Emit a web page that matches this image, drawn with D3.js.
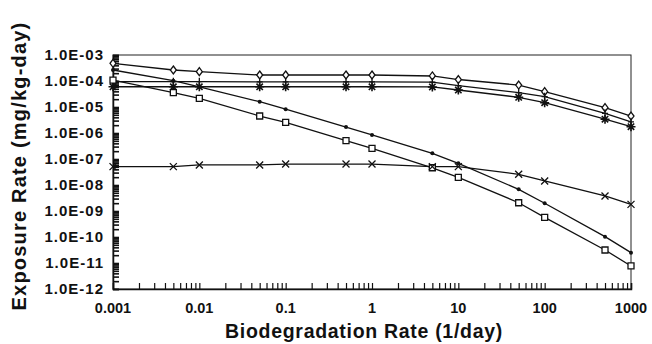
<!DOCTYPE html>
<head>
    <meta charset="utf-8">
    <script src="https://d3js.org/d3.v7.min.js"></script>
    <style>
        body { margin: 0; background: #fff; }
        text { font-family: "Liberation Sans", Arial, sans-serif; font-weight: bold; fill: #111; }
    </style>
</head>

<body>
    <div id="chart"></div>
</body>

<script>

    // biodegradation rates (1/day)
    const rates = [0.001, 0.005, 0.01, 0.05, 0.1, 0.5, 1, 5, 10, 50, 100, 500, 1000];

    // exposure rates (mg/kg-day)
    const diamondSeries  = [4.8e-4, 2.65e-4, 2.28e-4, 1.7e-4, 1.7e-4, 1.7e-4, 1.7e-4, 1.56e-4, 1.14e-4, 7.0e-5, 3.9e-5, 9.4e-6, 4.5e-6];
    const plusSeries     = [9.4e-5, 9.4e-5, 9.4e-5, 9.2e-5, 9.2e-5, 9.2e-5, 9.2e-5, 9.0e-5, 6.6e-5, 3.55e-5, 2.49e-5, 5.7e-6, 2.7e-6];
    const starSeries     = [6.0e-5, 6.0e-5, 6.0e-5, 6.0e-5, 6.0e-5, 6.0e-5, 6.0e-5, 5.9e-5, 4.5e-5, 2.36e-5, 1.46e-5, 3.4e-6, 1.75e-6];
    const dotSeries      = [2.65e-4, 1.03e-4, 5.9e-5, 1.6e-5, 8.2e-6, 1.7e-6, 8.4e-7, 1.66e-7, 6.8e-8, 6.8e-9, 1.98e-9, 1.03e-10, 2.5e-11];
    const squareSeries   = [1.09e-4, 3.55e-5, 2.16e-5, 4.5e-6, 2.58e-6, 5.06e-7, 2.58e-7, 4.6e-8, 1.98e-8, 2.08e-9, 5.7e-10, 3.16e-11, 7.7e-12];
    const crossSeries    = [5.1e-8, 5.1e-8, 5.9e-8, 5.9e-8, 6.4e-8, 6.4e-8, 6.4e-8, 5.1e-8, 5.1e-8, 2.58e-8, 1.43e-8, 3.8e-9, 1.8e-9];

    const xTicks = [0.001, 0.01, 0.1, 1, 10, 100, 1000];
    const xTickLabels = ["0.001", "0.01", "0.1", "1", "10", "100", "1000"];
    const yTicks = [1e-3, 1e-4, 1e-5, 1e-6, 1e-7, 1e-8, 1e-9, 1e-10, 1e-11, 1e-12];
    const yTickLabels = ["1.0E-03", "1.0E-04", "1.0E-05", "1.0E-06", "1.0E-07", "1.0E-08", "1.0E-09", "1.0E-10", "1.0E-11", "1.0E-12"];

    const series = [
        {values: diamondSeries, marker: "diamond"},
        {values: plusSeries,    marker: "plus"},
        {values: starSeries,    marker: "star"},
        {values: dotSeries,     marker: "dot"},
        {values: squareSeries,  marker: "square"},
        {values: crossSeries,   marker: "cross"}
    ];

    const margin = {top: 55, right: 21, bottom: 55, left: 113},
        width = 652 - margin.left - margin.right,
        height = 344 - margin.top - margin.bottom;

    const svg = d3.select("#chart")
        .append("svg")
            .attr("width", 652)
            .attr("height", 344)
        .append("g")
            .attr("transform", `translate(${margin.left},${margin.top})`);

    const x = d3.scaleLog()
        .domain([0.001, 1000])
        .range([0, width]);

    const y = d3.scaleLog()
        .domain([1e-12, 1e-3])
        .range([height, 0]);

    // frame
    svg.append("rect")
        .attr("width", width)
        .attr("height", height)
        .attr("fill", "none")
        .attr("stroke", "#222")
        .attr("stroke-width", 1);

    // X axis: minor ticks inside, labels below
    const xAxis = svg.append("g")
        .attr("transform", `translate(0,${height})`)
        .call(d3.axisBottom(x)
            .tickValues(x.ticks())
            .tickSize(-6)
            .tickFormat(""));
    xAxis.select(".domain").attr("stroke", "#111").attr("stroke-width", 1.5);
    xAxis.selectAll(".tick line").attr("stroke", "#111").attr("stroke-width", 1.2);

    svg.append("g")
        .selectAll("text")
        .data(xTicks)
        .join("text")
            .attr("x", d => x(d))
            .attr("y", height + 24)
            .attr("text-anchor", "middle")
            .style("font-size", "14.5px")
            .text((d, i) => xTickLabels[i]);

    // Y axis: minor ticks inside, labels left
    const yAxis = svg.append("g")
        .call(d3.axisLeft(y)
            .tickValues(y.ticks())
            .tickSize(-6)
            .tickFormat(""));
    yAxis.select(".domain").attr("stroke", "#111").attr("stroke-width", 1.5);
    yAxis.selectAll(".tick line").attr("stroke", "#111").attr("stroke-width", 1.6);

    svg.append("g")
        .selectAll("text")
        .data(yTicks)
        .join("text")
            .attr("x", -9)
            .attr("y", d => y(d))
            .attr("dy", "0.36em")
            .attr("text-anchor", "end")
            .style("font-size", "15px")
            .style("letter-spacing", "1px")
            .text((d, i) => yTickLabels[i]);

    // axis titles
    svg.append("text")
        .attr("x", width / 2 - 8)
        .attr("y", height + 49)
        .attr("text-anchor", "middle")
        .style("font-size", "19.5px")
        .style("letter-spacing", "0.7px")
        .text("Biodegradation Rate (1/day)");

    svg.append("text")
        .attr("transform", `translate(${-margin.left + 26},${height / 2 - 6}) rotate(-90)`)
        .attr("text-anchor", "middle")
        .style("font-size", "20px")
        .style("letter-spacing", "1.2px")
        .text("Exposure Rate (mg/kg-day)");

    // lines
    const line = d3.line()
        .x((d, i) => x(rates[i]))
        .y(d => y(d));

    svg.selectAll(".series-line")
        .data(series)
        .join("path")
            .attr("class", "series-line")
            .attr("fill", "none")
            .attr("stroke", "#111")
            .attr("stroke-width", 1.3)
            .attr("d", d => line(d.values));

    // markers
    function markerPath(type) {
        switch (type) {
            case "diamond": return "M0,-4L3,0L0,4L-3,0Z";
            case "square":  return "M-3,-3H3V3H-3Z";
            case "cross":   return "M-3.5,-3.5L3.5,3.5M-3.5,3.5L3.5,-3.5";
            case "plus":    return "M0,-4V4M-3,0H3";
            case "star":    return "M0,-4.5V4.5M-4.5,0H4.5M-3.2,-3.2L3.2,3.2M-3.2,3.2L3.2,-3.2";
        }
    }

    series.forEach(s => {
        const pts = s.values.map((v, i) => [x(rates[i]), y(v)]);
        if (s.marker === "dot") {
            svg.append("g")
                .selectAll("circle")
                .data(pts)
                .join("circle")
                    .attr("cx", d => d[0])
                    .attr("cy", d => d[1])
                    .attr("r", 2)
                    .attr("fill", "#111");
        } else {
            svg.append("g")
                .selectAll("path")
                .data(pts)
                .join("path")
                    .attr("transform", d => `translate(${d[0]},${d[1]})`)
                    .attr("d", markerPath(s.marker))
                    .attr("fill", s.marker === "diamond" || s.marker === "square" ? "#fff" : "none")
                    .attr("stroke", "#111")
                    .attr("stroke-width", s.marker === "star" ? 1.6 : 1.3);
        }
    });

</script>
</html>
